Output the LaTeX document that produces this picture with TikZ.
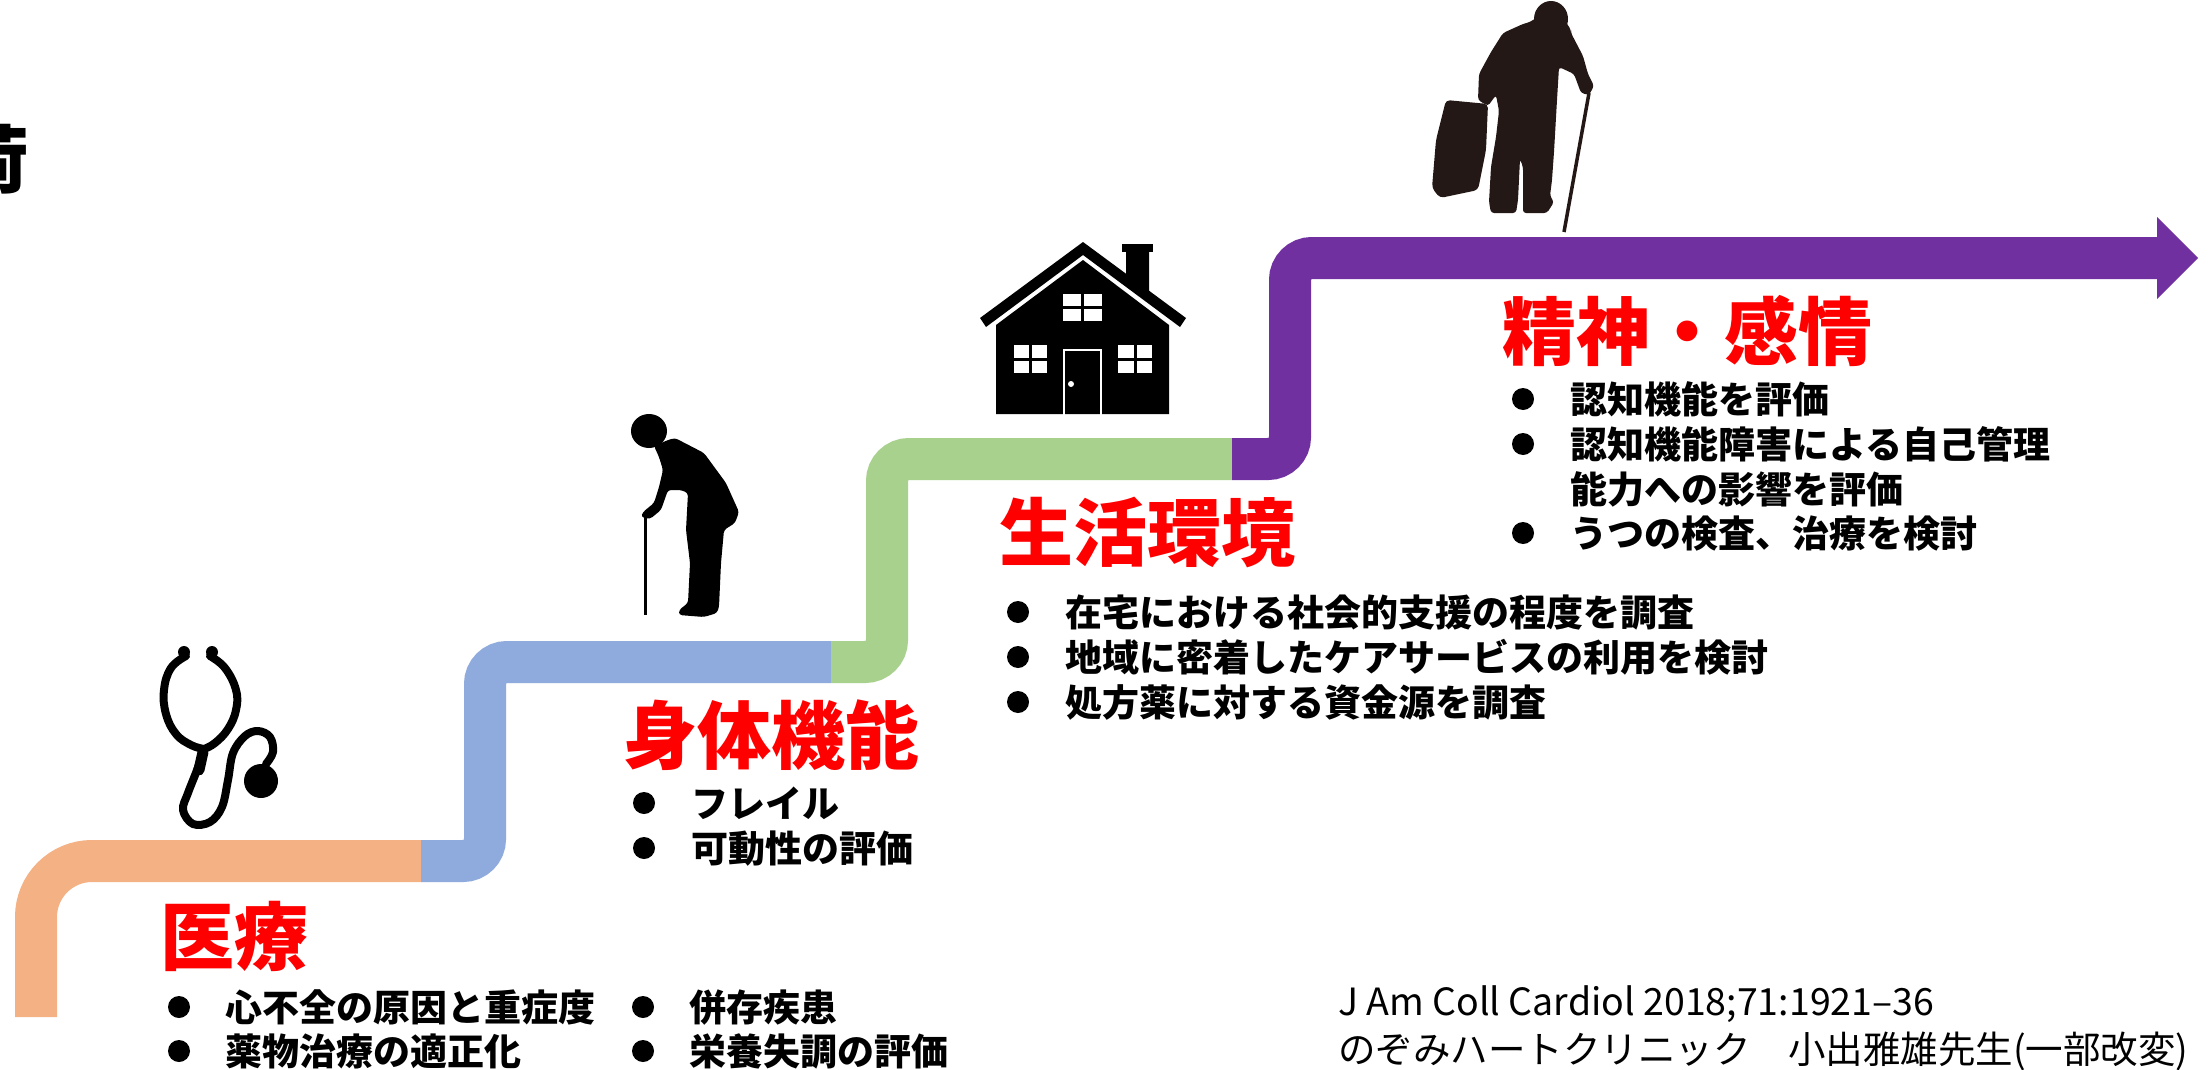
\documentclass[tikz,border=0pt]{standalone}
\usepackage{fontspec}
\setmainfont{Noto Sans CJK JP}
\definecolor{stepOrange}{HTML}{F4B183}
\definecolor{stepBlue}{HTML}{8FAADC}
\definecolor{stepGreen}{HTML}{A9D18E}
\definecolor{stepPurple}{HTML}{7030A0}
\definecolor{darkfig}{HTML}{231815}
\begin{document}
\begin{tikzpicture}[x=1pt,y=-1pt,
  band/.style={line width=42pt, line cap=butt},
  heading/.style={anchor=base west, inner sep=0pt, text=red, font=\fontsize{74}{80}\selectfont\bfseries},
  item/.style={anchor=base west, inner sep=0pt, font=\fontsize{37}{44}\selectfont\bfseries},
  dot/.style={circle, fill=black, inner sep=0pt, minimum size=22pt},
  cite/.style={anchor=base west, inner sep=0pt, font=\fontsize{37.5}{44}\selectfont},
  tube/.style={draw=black, line width=8pt, line cap=round, line join=round},
]
\useasboundingbox (0,0) rectangle (2212,1070);
\fill[white] (0,0) rectangle (2212,1070);

% ---- staircase band ----
\coordinate (s0) at (36,1017);
\coordinate (s1) at (421,861);
\coordinate (s2) at (831,662);
\coordinate (s3) at (1232,459);
\coordinate (s4) at (2157,258);
\draw[band, stepOrange, rounded corners=56pt] (s0) |- (s1);
\draw[band, stepBlue, rounded corners=22pt] (s1) -- (485,861) -- (485,662) -- (s2);
\draw[band, stepGreen, rounded corners=22pt] (s2) -- (887,662) -- (887,459) -- (s3);
\draw[band, stepPurple, rounded corners=22pt] (s3) -- (1290,459) -- (1290,258) -- (s4);
\fill[stepPurple] (2157,217) -- (2198,258) -- (2157,299) -- cycle;

% ---- stethoscope ----
\draw[tube] plot[smooth, tension=0.7] coordinates {(186,656) (171,668) (164,690) (166,714) (176,734) (191,745) (204,749)};
\draw[tube] plot[smooth, tension=0.7] coordinates {(210,656) (225,668) (236,690) (236,710) (228,729) (215,743) (204,749)};
\draw[tube] plot[smooth, tension=0.6] coordinates {(204,749) (197,770) (188,793) (183,810) (193,824) (210,822) (222,807) (228,780) (233,753) (245,736) (258,731) (270,737) (273,752) (266,764)};
\draw[black, line width=11pt, line cap=round] (203,752) -- (199,770);
\fill[black] (184,652) circle (6pt);
\fill[black] (212,652) circle (6pt);
\fill[black] (261,781) circle (17pt);

% ---- stooped figure with a cane ----
\fill[black] (649,431) ellipse (18pt and 17pt);
\fill[black, rounded corners=3pt] (654,446) -- (668,440) -- (675,438) -- (704,453) -- (726,483) -- (739,512)
  -- (735,523) -- (724,530) -- (721,563) -- (719,607) -- (717,613) -- (704,617) -- (679,615) -- (679,610)
  -- (688,603) -- (690,563) -- (686,530) -- (688,493) -- (681,490) -- (668,490) -- (661,510) -- (650,519)
  -- (641,517) -- (643,512) -- (654,503) -- (659,487) -- (663,470) -- (659,457) -- cycle;
\draw[black, line width=3pt] (645,516) -- (645,615);

% ---- house ----
\fill[black] (1126,249) -- (1149,249) -- (1149,292) -- (1126,276) -- cycle;
\fill[black] (1122,244) rectangle (1153,252);
\fill[black] (980,318) -- (1083,242) -- (1186,318) -- (1180,327) -- (1083,255) -- (986,327) -- cycle;
\fill[black] (996,414) -- (996,325) -- (1083,260) -- (1169,325) -- (1169,414) -- cycle;
\fill[white] (1063,294) rectangle (1102,321);
\fill[white] (1014,345) rectangle (1047,373);
\fill[white] (1118,345) rectangle (1152,373);
\draw[black, line width=3pt] (1082.5,294) -- (1082.5,321) (1063,307.5) -- (1102,307.5)
  (1030.5,345) -- (1030.5,373) (1014,359) -- (1047,359)
  (1135,345) -- (1135,373) (1118,359) -- (1152,359);
\draw[white, line width=2pt] (1064,415) -- (1064,350) -- (1101,350) -- (1101,415);
\fill[white] (1071,384) circle (3pt);

% ---- walking man with bag and cane ----
\fill[darkfig] (1551,19) ellipse (17pt and 18pt);
\fill[darkfig, rounded corners=3pt] (1530,22) -- (1545,12) -- (1562,16) -- (1571,30) -- (1571,33) -- (1583,56)
  -- (1588,74) -- (1594,86) -- (1589,95) -- (1581,93) -- (1574,74) -- (1559,67) -- (1557,100) -- (1554,152)
  -- (1552,180) -- (1550,196) -- (1554,202) -- (1547,213) -- (1523,213) -- (1523,200) -- (1523,167)
  -- (1520,159) -- (1518,200) -- (1516,213) -- (1491,213) -- (1489,202) -- (1491,167) -- (1496,137)
  -- (1499,111) -- (1496,95) -- (1488,106) -- (1478,100) -- (1479,74) -- (1491,52) -- (1503,33)
  -- (1523,24) -- cycle;
\fill[darkfig, rounded corners=4pt] (1446,100) -- (1488,104) -- (1486,150) -- (1478,190) -- (1440,198)
  -- (1432,188) -- (1436,140) -- cycle;
\draw[darkfig, line width=3.5pt] (1589,93) -- (1564,232);

% ---- clipped title glyph at the left edge ----
\node[anchor=base east, inner sep=0pt, font=\fontsize{74}{80}\selectfont\bfseries] (t0) at (30,187) {荷};

% ---- stage 1 ----
\node[heading] (h1) at (160,964) {医療};
\node[dot] (d11) at (179,1007) {};
\node[item] (i11) at (225,1021) {心不全の原因と重症度};
\node[dot] (d12) at (179,1051) {};
\node[item] (i12) at (225,1065) {薬物治療の適正化};
\node[dot] (d13) at (643,1007) {};
\node[item] (i13) at (689,1021) {併存疾患};
\node[dot] (d14) at (643,1051) {};
\node[item] (i14) at (689,1065) {栄養失調の評価};

% ---- stage 2 ----
\node[heading] (h2) at (623,763) {身体機能};
\node[dot] (d21) at (644,803) {};
\node[item] (i21) at (691,817) {フレイル};
\node[dot] (d22) at (644,848) {};
\node[item] (i22) at (691,862) {可動性の評価};

% ---- stage 3 ----
\node[heading] (h3) at (999,560) {生活環境};
\node[dot] (d31) at (1018,612) {};
\node[item] (i31) at (1065,626) {在宅における社会的支援の程度を調査};
\node[dot] (d32) at (1018,657) {};
\node[item] (i32) at (1065,671) {地域に密着したケアサービスの利用を検討};
\node[dot] (d33) at (1018,702) {};
\node[item] (i33) at (1065,716) {処方薬に対する資金源を調査};

% ---- stage 4 ----
\node[heading] (h4) at (1502,359) {精神・感情};
\node[dot] (d41) at (1523,399) {};
\node[item] (i41) at (1570,413) {認知機能を評価};
\node[dot] (d42) at (1523,444) {};
\node[item] (i42) at (1570,458) {認知機能障害による自己管理};
\node[item] (i43) at (1570,503) {能力への影響を評価};
\node[dot] (d44) at (1523,533) {};
\node[item] (i44) at (1570,547) {うつの検査、治療を検討};

% ---- source ----
\node[cite] (c1) at (1338,1015) {J Am Coll Cardiol 2018;71:1921–36};
\node[cite] (c2) at (1338,1063) {のぞみハートクリニック　小出雅雄先生(一部改変)};
\end{tikzpicture}
\end{document}
